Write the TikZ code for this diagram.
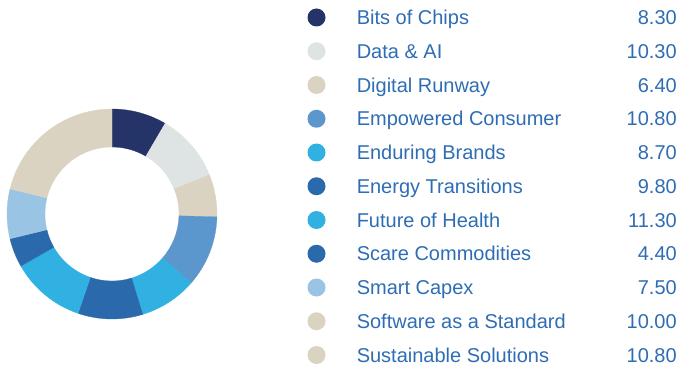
\documentclass[tikz,border=0pt]{standalone}
\usepackage{fontspec}
\setmainfont{Liberation Sans}
\definecolor{cNavy}{HTML}{253468}
\definecolor{cGray}{HTML}{DEE3E3}
\definecolor{cBeige}{HTML}{DBD3C1}
\definecolor{cMed}{HTML}{5B96CC}
\definecolor{cCyan}{HTML}{31B1E1}
\definecolor{cBlue}{HTML}{2A69AB}
\definecolor{cLight}{HTML}{9AC4E3}
\definecolor{cText}{HTML}{2E6DB4}
\tikzset{
  bullet/.style={circle, inner sep=0pt, minimum size=13.5pt},
  legtext/.style={anchor=base west, inner sep=0pt, text=cText, font=\fontsize{15}{18}\selectfont},
  legval/.style={anchor=base east, inner sep=0pt, text=cText, font=\fontsize{15}{18}\selectfont},
}
\begin{document}
\begin{tikzpicture}[x=0.75pt,y=-0.75pt]
\useasboundingbox (0,0) rectangle (680,370);
% donut slices (angles clockwise from top)
\foreach \a/\b/\c in {0/30.397/cNavy, 30.397/68.118/cGray, 68.118/91.556/cBeige,
  91.556/131.109/cMed, 131.109/162.970/cCyan, 162.970/198.860/cBlue,
  198.860/240.244/cCyan, 240.244/256.358/cBlue, 256.358/283.825/cLight,
  283.825/360/cBeige}{
  \pgfmathsetmacro{\sa}{\a-90}
  \pgfmathsetmacro{\ea}{\b-90}
  \fill[\c, draw=\c, line width=0.2pt, shift={(112,214)}]
    (\sa:105) arc[start angle=\sa, end angle=\ea, radius=105]
    -- (\ea:67) arc[start angle=\ea, end angle=\sa, radius=67] -- cycle;
}
% legend
\foreach \i/\name/\val/\c in {0/Bits of Chips/8.30/cNavy, 1/Data \& AI/10.30/cGray,
  2/Digital Runway/6.40/cBeige, 3/Empowered Consumer/10.80/cMed,
  4/Enduring Brands/8.70/cCyan, 5/Energy Transitions/9.80/cBlue,
  6/Future of Health/11.30/cCyan, 7/Scare Commodities/4.40/cBlue,
  8/Smart Capex/7.50/cLight, 9/Software as a Standard/10.00/cBeige,
  10/Sustainable Solutions/10.80/cBeige}{
  \pgfmathsetmacro{\yy}{17.5+33.75*\i}
  \node[bullet, fill=\c] (b\i) at (316.5,\yy) {};
  \node[legtext] (l\i) at (356.5,\yy+7.2) {\name};
  \node[legval] (v\i) at (677,\yy+7.2) {\val};
}
\end{tikzpicture}
\end{document}
